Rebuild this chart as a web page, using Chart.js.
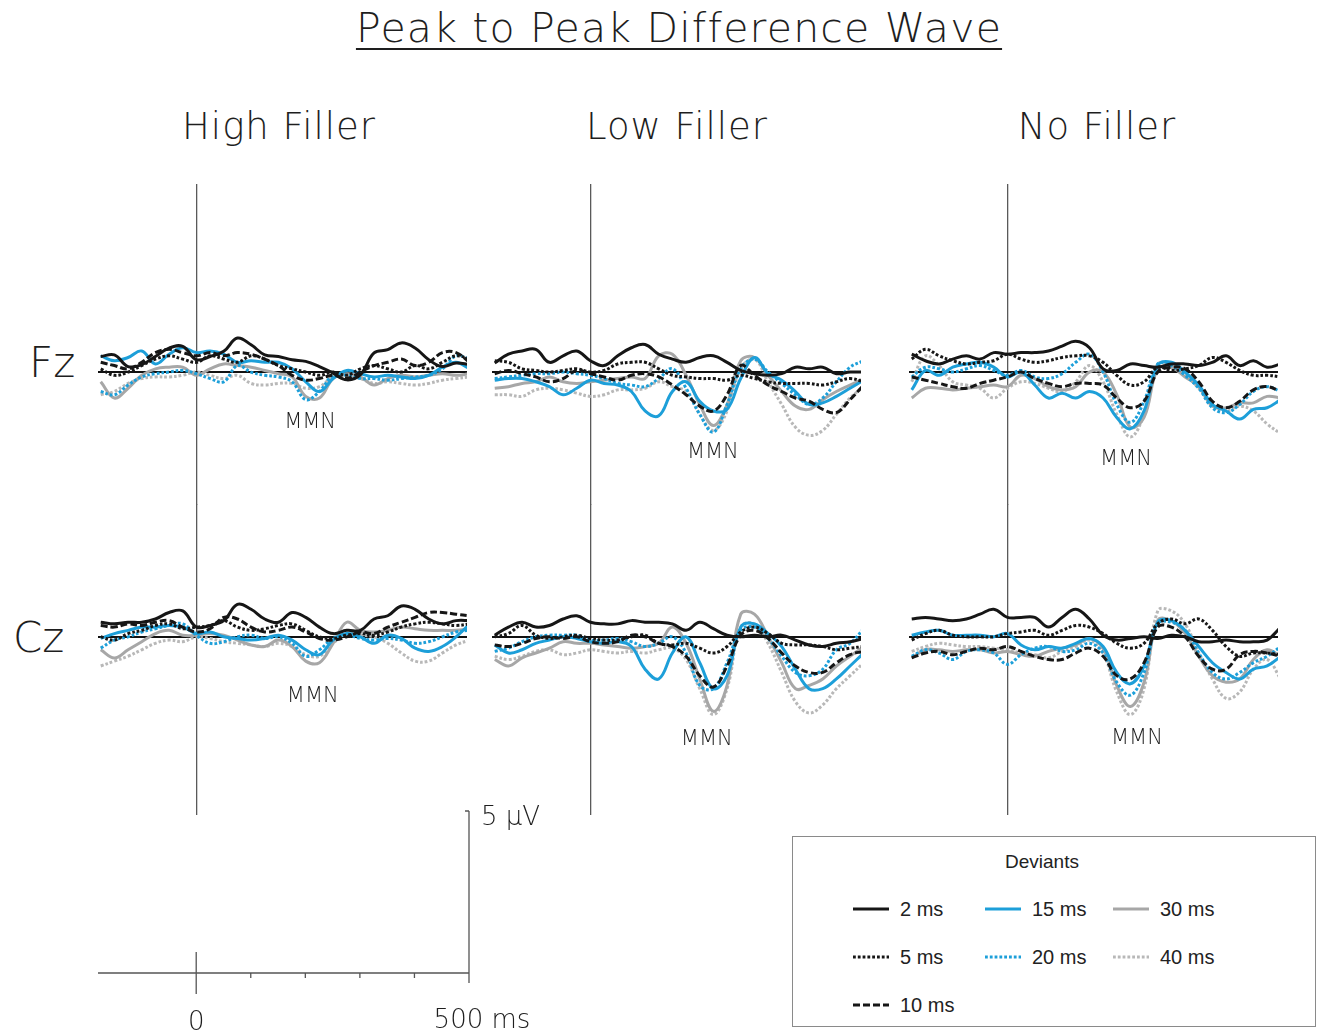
<!DOCTYPE html>
<html>
<head>
<meta charset="utf-8">
<script src="https://cdn.jsdelivr.net/npm/chart.js@4.4.1/dist/chart.umd.min.js"></script>
<style>
  body { margin: 0; width: 1318px; height: 1033px; background: #fff; position: relative; overflow: hidden; }
  canvas { position: absolute; }
  .txt { position: absolute; white-space: nowrap; color: #1e1e1e; font-family: "DejaVu Sans", sans-serif; font-weight: 200; line-height: 1; }
  #title { left: 679px; top: 8px; font-size: 41px; letter-spacing: 1.2px; transform: translateX(-50%);
           text-decoration: underline; text-decoration-thickness: 2px; text-underline-offset: 6px; }
  .col { top: 108px; font-size: 37px; letter-spacing: 1px; transform: translateX(-50%); }
  .row { font-size: 42px; }
  #legend { position: absolute; left: 792px; top: 836px; width: 522px; height: 189px; border: 1px solid #8a8a8a;
            font-family: "Liberation Sans", Arial, sans-serif; font-size: 20px; color: #222; }
  #legend .head { position: absolute; left: -12px; width: 100%; top: 14px; text-align: center; font-size: 19px; }
  #legend .item { position: absolute; height: 24px; display: flex; align-items: center; }
  #legend svg { margin-right: 11px; }
</style>
</head>
<body>
<div id="title" class="txt">Peak to Peak Difference Wave</div>
<div id="legend"><div class="head">Deviants</div></div>

<script>
// Time axis (ms) and deviant names
const times = [-175, -150, -125, -100, -75, -50, -25, 0, 25, 50, 75, 100, 125, 150,
               175, 200, 225, 250, 275, 300, 325, 350, 375, 400, 425, 450, 475, 500];
const deviants = ["2 ms", "5 ms", "10 ms", "15 ms", "20 ms", "30 ms", "40 ms"];
const conditions = ["High Filler", "Low Filler", "No Filler"];
const electrodes = ["Fz", "Cz"];

// Difference waves (µV), one row per deviant in the order above
const highFz = [
  [0.48,0.53,0.17,0.23,0.48,0.74,0.79,0.38,0.48,0.64,1.05,0.84,0.53,0.48,0.38,0.33,0.17,-0.03,-0.24,-0.08,0.59,0.69,0.90,0.74,0.38,0.17,0.28,0.23],
  [0.1,-0.1,0.0,0.2,0.4,0.5,0.4,0.3,0.5,0.4,0.3,0.5,0.4,0.2,0.1,0.0,-0.1,0.0,-0.1,0.1,0.2,0.1,0.0,0.2,0.1,0.3,0.5,0.4],
  [0.3,0.2,0.1,0.3,0.6,0.7,0.6,0.5,0.6,0.5,0.6,0.55,0.4,0.2,-0.1,-0.25,-0.2,-0.1,-0.2,0.0,0.2,0.3,0.4,0.2,0.3,0.6,0.6,0.3],
  [0.5,0.35,0.45,0.65,0.25,0.55,0.75,0.6,0.65,0.55,0.3,0.35,0.3,0.3,0.1,-0.3,-0.6,-0.2,0.05,-0.05,-0.15,-0.1,-0.15,-0.2,-0.1,0.15,0.3,0.1],
  [-0.6,-0.7,-0.4,-0.15,-0.05,0.0,0.05,-0.05,-0.2,-0.3,0.2,0.0,-0.1,-0.15,-0.3,-0.85,-0.6,-0.1,-0.1,-0.2,-0.2,-0.25,-0.2,-0.15,-0.1,0.1,0.5,0.4],
  [-0.3,-0.8,-0.5,-0.1,0.1,0.15,0.15,-0.1,0.1,0.25,0.2,0.15,0.05,-0.05,-0.15,-0.75,-0.8,-0.2,-0.05,-0.15,-0.4,-0.2,-0.1,-0.15,-0.1,-0.05,-0.1,-0.05],
  [-0.7,-0.6,-0.35,-0.2,-0.15,-0.15,-0.1,0.0,-0.1,-0.2,-0.1,-0.35,-0.4,-0.35,-0.35,-0.5,-0.45,-0.15,-0.1,-0.2,-0.35,-0.3,-0.35,-0.4,-0.35,-0.25,-0.2,-0.15]
];
const lowFz = [
  [0.28,0.55,0.65,0.7,0.3,0.5,0.65,0.35,0.2,0.5,0.75,0.85,0.55,0.4,0.3,0.45,0.5,0.3,0.05,-0.05,-0.1,-0.05,0.15,0.1,0.15,-0.05,0.0,0.0],
  [0.35,0.3,0.1,0.05,0.0,0.05,0.1,0.0,0.05,0.25,0.3,0.3,0.1,-0.1,-0.15,-0.2,-0.2,-0.25,-0.1,-0.2,-0.3,-0.35,-0.35,-0.35,-0.4,-0.3,-0.2,-0.3],
  [-0.05,0.05,-0.05,-0.15,-0.3,-0.2,0.05,-0.05,-0.15,-0.25,-0.1,-0.05,-0.15,-0.4,-0.7,-1.05,-1.2,-0.7,0.2,-0.1,-0.4,-0.6,-0.8,-0.9,-1.15,-1.25,-0.85,-0.4],
  [-0.25,-0.2,-0.2,-0.3,-0.45,-0.7,-0.5,-0.25,-0.35,-0.4,-0.6,-1.2,-1.35,-0.6,-0.3,-0.9,-1.2,-1.15,-0.2,0.45,-0.05,-0.25,-0.6,-1.0,-0.95,-0.75,-0.5,-0.25],
  [-0.2,-0.15,-0.1,-0.05,-0.05,0.0,-0.05,-0.1,-0.2,-0.35,-0.4,-0.45,-0.2,0.1,-0.5,-1.3,-1.85,-1.0,0.1,0.4,0.0,-0.35,-0.7,-1.0,-0.8,-0.3,0.15,0.35],
  [-0.5,-0.45,-0.35,-0.3,-0.15,-0.3,-0.35,-0.3,-0.25,-0.2,-0.15,-0.2,0.5,0.55,-0.1,-1.0,-1.65,-1.0,0.35,0.45,-0.1,-0.6,-1.05,-1.15,-0.85,-0.6,-0.4,-0.2],
  [-0.7,-0.7,-0.75,-0.55,-0.5,-0.55,-0.65,-0.75,-0.7,-0.55,-0.55,-0.5,-0.3,-0.45,-0.6,-1.3,-1.8,-1.2,0.1,0.4,-0.3,-1.0,-1.7,-1.95,-1.8,-1.3,-0.8,-0.45]
];
const noFz = [
  [0.55,0.35,0.25,0.4,0.5,0.4,0.6,0.55,0.6,0.6,0.65,0.8,0.95,0.75,0.1,0.05,0.25,0.2,0.15,0.25,0.25,0.2,0.3,0.5,0.2,0.35,0.15,0.25],
  [0.4,0.7,0.5,0.35,0.25,0.3,0.35,0.55,0.4,0.3,0.35,0.45,0.5,0.5,0.3,-0.1,-0.4,-0.3,0.15,0.05,0.1,0.2,0.45,0.3,0.05,-0.1,-0.1,-0.15],
  [-0.15,-0.25,-0.35,-0.45,-0.5,-0.35,-0.25,-0.15,0.0,-0.2,-0.35,-0.45,-0.35,-0.35,-0.4,-0.8,-1.1,-0.9,0.0,0.15,0.1,-0.3,-0.9,-1.1,-0.9,-0.55,-0.45,-0.6],
  [-0.55,0.05,-0.1,0.15,0.25,0.3,0.15,-0.15,0.0,-0.4,-0.8,-0.65,-0.8,-0.6,-0.8,-1.4,-1.75,-1.2,0.2,0.3,0.0,-0.4,-1.0,-1.2,-1.45,-1.15,-1.1,-0.85],
  [-0.15,0.15,0.1,0.0,0.1,0.2,0.05,-0.1,0.05,-0.15,-0.2,-0.05,0.3,0.55,0.0,-1.0,-1.55,-0.9,0.25,0.2,-0.1,-0.5,-1.1,-1.25,-1.0,-0.6,-0.45,-0.6],
  [-0.8,-0.5,-0.5,-0.55,-0.5,-0.45,-0.4,-0.45,-0.1,-0.2,-0.45,-0.55,-0.45,0.0,0.0,-0.7,-1.7,-1.4,0.1,0.15,-0.15,-0.45,-1.05,-1.1,-0.95,-0.95,-0.75,-0.8],
  [-0.3,0.5,0.2,-0.3,-0.4,-0.5,-0.8,-0.5,-0.3,-0.35,-0.5,-0.6,-0.3,0.2,-0.3,-1.3,-2.0,-1.3,0.25,0.15,-0.1,-0.5,-1.0,-1.2,-1.05,-1.2,-1.6,-1.9]
];
const highCz = [
  [0.45,0.4,0.45,0.45,0.55,0.75,0.8,0.3,0.35,0.5,1.0,0.85,0.55,0.45,0.75,0.6,0.3,0.1,0.2,0.2,0.55,0.65,0.95,0.85,0.55,0.4,0.5,0.5],
  [0.0,-0.1,0.1,0.2,0.35,0.4,0.25,0.3,0.35,0.5,0.3,0.2,0.25,0.35,0.4,0.2,0.0,-0.05,0.05,0.1,0.05,0.15,0.3,0.4,0.45,0.4,0.35,0.4],
  [0.35,0.3,0.4,0.35,0.45,0.5,0.3,0.15,0.25,0.6,0.55,0.3,0.15,0.2,0.3,0.15,-0.05,-0.1,0.0,0.15,0.1,0.3,0.45,0.6,0.75,0.75,0.7,0.65],
  [-0.05,0.1,0.2,0.3,0.3,0.35,0.3,0.1,0.15,0.0,-0.05,-0.1,-0.05,0.05,-0.1,-0.4,-0.55,-0.1,0.1,0.0,-0.2,0.05,-0.05,-0.35,-0.45,-0.3,0.0,0.4],
  [-0.35,-0.1,0.0,0.15,0.25,0.35,0.4,0.05,-0.2,-0.15,0.0,0.05,-0.05,0.0,-0.2,-0.6,-0.4,-0.05,0.05,-0.05,-0.1,-0.05,-0.1,-0.2,-0.15,0.0,0.15,0.2],
  [-0.4,-0.65,-0.4,-0.15,0.1,0.2,0.05,0.05,0.1,0.05,-0.1,-0.25,-0.3,-0.1,-0.3,-0.75,-0.8,-0.2,0.45,0.2,0.15,0.2,0.3,0.25,0.2,0.2,0.2,0.25],
  [-0.9,-0.75,-0.6,-0.4,-0.2,-0.1,-0.15,0.0,-0.05,-0.15,-0.2,-0.25,-0.3,-0.2,-0.3,-0.55,-0.6,-0.2,0.1,0.05,0.0,-0.2,-0.5,-0.75,-0.75,-0.5,-0.25,-0.1]
];
const lowCz = [
  [0.05,0.3,0.45,0.3,0.35,0.55,0.65,0.45,0.4,0.4,0.5,0.45,0.45,0.4,0.2,0.45,0.25,0.05,0.0,0.05,0.0,0.05,-0.1,-0.25,-0.3,-0.2,-0.15,-0.05],
  [0.0,0.1,0.35,0.05,-0.05,0.0,0.05,-0.05,-0.1,-0.1,0.0,0.05,-0.2,-0.25,-0.2,-0.35,-0.5,-0.3,0.15,0.3,0.1,-0.2,-0.25,-0.25,-0.3,-0.4,-0.35,-0.3],
  [-0.25,-0.3,-0.2,-0.05,0.0,-0.05,0.0,-0.15,-0.2,-0.15,0.05,0.0,-0.2,-0.3,-0.6,-1.2,-1.55,-0.9,0.05,0.2,-0.05,-0.5,-0.9,-1.1,-1.1,-0.8,-0.55,-0.45],
  [-0.25,-0.5,-0.4,-0.2,-0.1,0.0,-0.05,-0.15,-0.2,-0.15,-0.3,-1.0,-1.3,-0.5,0.0,-0.8,-1.6,-1.2,0.3,0.4,0.1,-0.3,-1.0,-1.6,-1.6,-1.3,-0.9,-0.5],
  [-0.45,-0.35,-0.15,0.0,0.05,0.05,0.05,-0.1,-0.1,-0.05,-0.15,-0.3,-0.2,0.0,-0.5,-1.5,-1.6,-0.8,0.2,0.3,-0.05,-0.6,-1.1,-1.2,-1.0,-0.4,-0.2,0.25],
  [-0.7,-0.9,-0.65,-0.5,-0.35,-0.15,-0.2,-0.2,-0.25,-0.3,-0.35,-0.3,-0.2,0.3,-0.2,-1.3,-2.3,-1.5,0.7,0.7,0.0,-0.8,-1.6,-1.5,-1.3,-0.9,-0.6,-0.3],
  [-0.6,-0.7,-0.6,-0.45,-0.4,-0.55,-0.5,-0.4,-0.45,-0.5,-0.45,-0.5,-0.4,-0.35,-0.7,-1.6,-2.4,-1.6,0.3,0.4,-0.2,-1.1,-2.0,-2.35,-2.1,-1.6,-1.2,-0.8]
];
const noCz = [
  [0.55,0.6,0.55,0.5,0.55,0.7,0.85,0.6,0.6,0.6,0.3,0.6,0.85,0.55,0.05,-0.1,-0.05,0.0,-0.05,0.05,0.0,-0.15,-0.15,-0.1,-0.15,-0.15,-0.1,0.3],
  [-0.1,0.1,0.2,0.05,0.0,0.0,0.0,0.1,0.15,0.2,0.05,0.2,0.35,0.3,0.1,-0.2,-0.35,-0.2,0.4,0.55,0.4,0.55,0.2,-0.3,-0.6,-0.5,-0.5,-0.55],
  [-0.65,-0.5,-0.45,-0.55,-0.45,-0.35,-0.4,-0.3,-0.45,-0.6,-0.7,-0.7,-0.5,-0.35,-0.6,-1.2,-1.3,-0.8,0.3,0.3,0.0,-0.6,-1.0,-1.0,-0.55,-0.45,-0.5,-0.6],
  [0.05,0.15,0.2,0.05,0.05,0.05,0.0,0.1,-0.25,-0.4,-0.3,-0.35,-0.2,-0.05,-0.3,-1.1,-1.45,-0.9,0.45,0.5,0.2,-0.3,-0.8,-1.1,-1.3,-1.0,-0.9,-0.6],
  [-0.6,-0.4,-0.5,-0.7,-0.45,-0.4,-0.5,-0.85,-0.55,-0.35,-0.3,-0.45,-0.4,-0.2,-0.5,-1.4,-1.8,-1.1,0.4,0.45,0.2,-0.5,-1.1,-1.3,-1.1,-0.8,-0.6,-0.3],
  [-0.65,-0.4,-0.4,-0.45,-0.4,-0.4,-0.5,-0.45,-0.55,-0.6,-0.45,-0.35,-0.25,-0.05,-0.35,-1.5,-2.15,-1.4,0.5,0.5,0.1,-0.6,-1.2,-1.4,-1.3,-0.7,-0.4,-0.6],
  [-0.45,-0.3,-0.2,-0.25,-0.3,-0.3,-0.35,-0.4,-0.5,-0.55,-0.65,-0.45,-0.3,-0.1,-0.5,-1.7,-2.4,-1.6,0.8,0.8,0.4,-0.5,-1.3,-1.9,-1.7,-1.0,-0.7,-1.3]
];

// "MMN" label anchor per panel: [ms, µV]
const mmnFz = [[208, -1.57], [224, -2.47], [217, -2.69]];
const mmnCz = [[213, -1.85], [213, -3.18], [237, -3.15]];

// Scale bar
const scaleTicks = [0, 100, 200, 300, 400, 500];
const scaleVolt = 5;

// ---- layout / style ----
const PX_PER_MS = 0.547;
const PX_PER_UV = 32.4;
const X_MIN = -180, X_MAX = 495;
const zeroX = [196, 590, 1007];
const baseY = { Fz: 372, Cz: 637 };
const yRange = { Fz: [-4.1, 5.8], Cz: [-5.5, 4.1] };
const BLACK = "#161616", BLUE = "#1d9fd9", GRAY = "#a7a7a7";
const styles = [
  { color: BLACK, dash: [] },
  { color: BLACK, dash: [2.8, 2] },
  { color: BLACK, dash: [7, 3] },
  { color: BLUE, dash: [] },
  { color: BLUE, dash: [2.8, 2] },
  { color: GRAY, dash: [] },
  { color: "#b8b8b8", dash: [2.8, 2] }
];
const legendSlot = [[0, 0], [0, 1], [0, 2], [1, 0], [1, 1], [2, 0], [2, 1]];

// Draws "MMN" at a data position
const mmnLabel = {
  id: "mmn",
  afterDatasetsDraw(chart, args, opts) {
    if (!opts.at) return;
    const { ctx, scales: { x, y } } = chart;
    ctx.save();
    ctx.font = '200 21px "DejaVu Sans"';
    ctx.fillStyle = "#1e1e1e";
    ctx.textAlign = "center";
    ctx.textBaseline = "middle";
    ctx.fillText("MMN", x.getPixelForValue(opts.at[0]), y.getPixelForValue(opts.at[1]));
    ctx.restore();
  }
};

function onlyZero(scale) { scale.ticks = [{ value: 0 }]; }

function makePanel(col, elec, series, mmnAt) {
  const [yMin, yMax] = yRange[elec];
  const c = document.createElement("canvas");
  c.width = Math.round((X_MAX - X_MIN) * PX_PER_MS);
  c.height = Math.round((yMax - yMin) * PX_PER_UV);
  c.style.left = Math.round(zeroX[col] + X_MIN * PX_PER_MS) + "px";
  c.style.top = Math.round(baseY[elec] - yMax * PX_PER_UV) + "px";
  document.body.appendChild(c);

  new Chart(c, {
    type: "line",
    data: {
      datasets: series.map((vals, i) => ({
        label: deviants[i],
        data: times.map((t, j) => ({ x: t, y: vals[j] })),
        borderColor: styles[i].color,
        borderDash: styles[i].dash,
        borderWidth: 3,
        pointRadius: 0,
        tension: 0.4,
        fill: false
      }))
    },
    options: {
      responsive: false,
      animation: false,
      events: [],
      layout: { padding: 0 },
      plugins: { legend: { display: false }, tooltip: { enabled: false }, mmn: { at: mmnAt } },
      scales: {
        x: {
          type: "linear", min: X_MIN, max: X_MAX, z: 1,
          afterBuildTicks: onlyZero,
          ticks: { display: false }, border: { display: false },
          grid: { drawTicks: false, color: "#5a5a5a", lineWidth: 1.3 }
        },
        y: {
          type: "linear", min: yMin, max: yMax, z: 1,
          afterBuildTicks: onlyZero,
          ticks: { display: false }, border: { display: false },
          grid: { drawTicks: false, color: "#111", lineWidth: 2 }
        }
      }
    },
    plugins: [mmnLabel]
  });
}

const fzData = [highFz, lowFz, noFz];
const czData = [highCz, lowCz, noCz];
const titleX = [279, 677, 1097];
conditions.forEach((name, i) => {
  const d = document.createElement("div");
  d.className = "txt col";
  d.style.left = titleX[i] + "px";
  d.textContent = name;
  document.body.appendChild(d);
  makePanel(i, "Fz", fzData[i], mmnFz[i]);
  makePanel(i, "Cz", czData[i], mmnCz[i]);
});

// Electrode labels
const rowLabelPos = { Fz: [29, 342], Cz: [13, 617] };
electrodes.forEach(e => {
  const d = document.createElement("div");
  d.className = "txt row";
  d.style.left = rowLabelPos[e][0] + "px";
  d.style.top = rowLabelPos[e][1] + "px";
  d.textContent = e;
  document.body.appendChild(d);
});

// Scale bar drawn from its own chart scales
const scaleBar = {
  id: "scaleBar",
  afterDraw(chart) {
    const { ctx, scales: { x, y } } = chart;
    const y0 = y.getPixelForValue(0), yTop = y.getPixelForValue(scaleVolt);
    const xEnd = x.getPixelForValue(scaleTicks[scaleTicks.length - 1]);
    ctx.save();
    ctx.strokeStyle = "#555";
    ctx.lineWidth = 1.3;
    ctx.beginPath();
    ctx.moveTo(x.left, y0); ctx.lineTo(xEnd, y0);
    ctx.moveTo(xEnd, yTop); ctx.lineTo(xEnd, y0 + 10);
    ctx.moveTo(xEnd, yTop); ctx.lineTo(xEnd - 4, yTop);
    scaleTicks.forEach(t => {
      const px = x.getPixelForValue(t);
      if (t === 0) { ctx.moveTo(px, y0 - 21); ctx.lineTo(px, y0 + 21); }
      else if (t < 500) { ctx.moveTo(px, y0); ctx.lineTo(px, y0 + 5); }
    });
    ctx.stroke();
    ctx.fillStyle = "#1e1e1e";
    ctx.font = '200 26px "DejaVu Sans"';
    ctx.textBaseline = "alphabetic";
    ctx.textAlign = "center";
    ctx.fillText("0", x.getPixelForValue(0), y0 + 57);
    ctx.fillText("500 ms", xEnd + 13, y0 + 55);
    ctx.textAlign = "left";
    ctx.fillText(scaleVolt + " \u00b5V", xEnd + 12, yTop + 14);
    ctx.restore();
  }
};
const sb = document.createElement("canvas");
sb.width = 520; sb.height = 243;
sb.style.left = "60px"; sb.style.top = "790px";
document.body.appendChild(sb);
new Chart(sb, {
  type: "line",
  data: { datasets: [] },
  options: {
    responsive: false, animation: false, events: [],
    layout: { padding: { left: 38, right: 111, top: 21, bottom: 60 } },
    plugins: { legend: { display: false }, tooltip: { enabled: false } },
    scales: {
      x: { type: "linear", min: -180, max: 500, display: false },
      y: { type: "linear", min: 0, max: scaleVolt, display: false }
    }
  },
  plugins: [scaleBar]
});

// Legend
const legend = document.getElementById("legend");
const colLeft = [60, 192, 320];
const rowTop = [60, 108, 156];
deviants.forEach((name, i) => {
  const [c, r] = legendSlot[i];
  const it = document.createElement("div");
  it.className = "item";
  it.style.left = colLeft[c] + "px";
  it.style.top = rowTop[r] + "px";
  const dash = styles[i].dash.length ? styles[i].dash.join(" ") : "none";
  it.innerHTML = '<svg width="36" height="6"><line x1="0" y1="3" x2="36" y2="3" stroke="' + styles[i].color +
    '" stroke-width="3" stroke-dasharray="' + dash + '"/></svg><span>' + name + "</span>";
  legend.appendChild(it);
});
</script>
</body>
</html>
